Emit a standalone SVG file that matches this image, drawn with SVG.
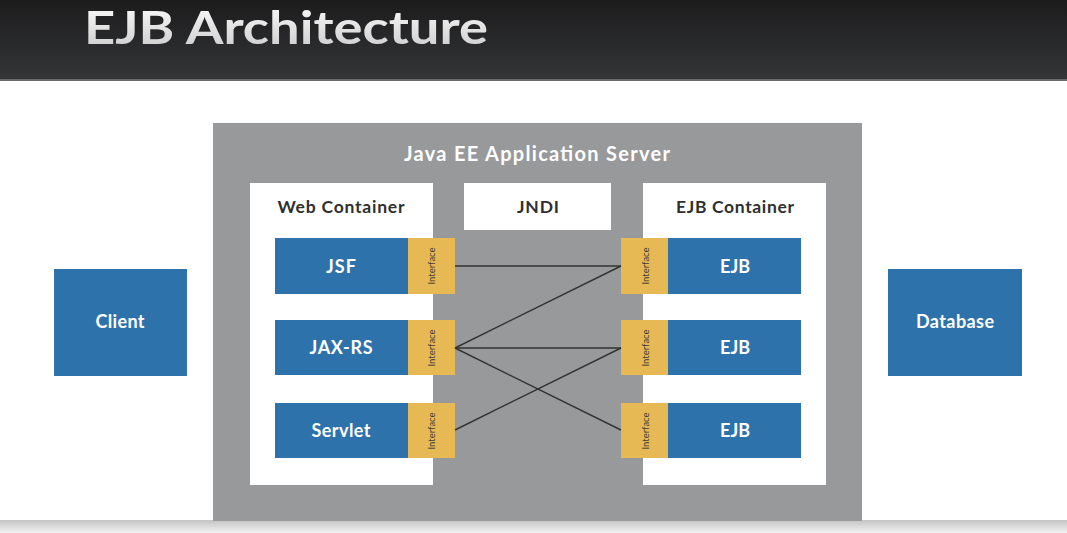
<svg xmlns="http://www.w3.org/2000/svg" width="1067" height="533" viewBox="0 0 1067 533">
  <defs>
    <linearGradient id="hdr" x1="0" y1="0" x2="0" y2="1">
      <stop offset="0" stop-color="#1c1c1d"/>
      <stop offset="1" stop-color="#343537"/>
    </linearGradient>
    <linearGradient id="ttl" x1="0" y1="0" x2="0" y2="1">
      <stop offset="0" stop-color="#ffffff"/>
      <stop offset="1" stop-color="#c9c9c9"/>
    </linearGradient>
    <linearGradient id="foot" x1="0" y1="0" x2="0" y2="1">
      <stop offset="0" stop-color="#c4c4c4"/>
      <stop offset="1" stop-color="#f2f2f2"/>
    </linearGradient>
    <style>
      .lbl { font-family: Lato, "Open Sans", sans-serif; font-weight: 700; text-anchor: middle; }
      .w { fill: #ffffff; }
      .d { fill: #2f2f2f; }
      .blue { fill: #2e72ac; }
      .iface { fill: #e6b955; }
      .box { fill: #ffffff; }
      .itext { font-family: Lato, "Open Sans", sans-serif; font-size: 9.5px; fill: #3a3a3a; text-anchor: middle; }
      .wire { stroke: #333333; stroke-width: 1.4; fill: none; }
    </style>
  </defs>

  <!-- page -->
  <rect x="0" y="0" width="1067" height="533" fill="#ffffff"/>
  <rect x="0" y="0" width="1067" height="80" fill="url(#hdr)"/>
  <rect x="0" y="79" width="1067" height="2" fill="#6a6a6a"/>
  <text x="84" y="44" font-family="Lato, 'Open Sans', sans-serif" font-weight="700" font-size="46" fill="url(#ttl)" textLength="404" lengthAdjust="spacingAndGlyphs">EJB Architecture</text>
  <rect x="0" y="520" width="1067" height="13" fill="url(#foot)"/>

  <!-- application server -->
  <g id="server">
    <rect x="213" y="123" width="649" height="398" fill="#98999b"/>
    <text class="lbl w" x="537" y="161" font-size="20" textLength="266" lengthAdjust="spacing">Java EE Application Server</text>
  </g>

  <g id="web-container">
    <rect class="box" x="250" y="183" width="183" height="302"/>
    <text class="lbl d" x="341" y="213" font-size="17.5" textLength="127" lengthAdjust="spacing">Web Container</text>
  </g>

  <g id="jndi">
    <rect class="box" x="464" y="183" width="147" height="47"/>
    <text class="lbl d" x="538" y="213" font-size="17.5" textLength="42" lengthAdjust="spacing">JNDI</text>
  </g>

  <g id="ejb-container">
    <rect class="box" x="643" y="183" width="183" height="302"/>
    <text class="lbl d" x="735" y="213" font-size="17.5" textLength="118" lengthAdjust="spacing">EJB Container</text>
  </g>

  <!-- web components -->
  <g id="jsf">
    <rect class="blue" x="275" y="238" width="133" height="56"/>
    <text class="lbl w" x="341" y="273" font-size="18" textLength="30" lengthAdjust="spacing">JSF</text>
    <rect class="iface" x="408" y="238" width="47" height="56"/>
    <text class="itext" transform="translate(434.5,266) rotate(-90)">Interface</text>
  </g>
  <g id="jax-rs">
    <rect class="blue" x="275" y="320" width="133" height="55"/>
    <text class="lbl w" x="341" y="354" font-size="18" textLength="63" lengthAdjust="spacing">JAX-RS</text>
    <rect class="iface" x="408" y="320" width="47" height="55"/>
    <text class="itext" transform="translate(434.5,348) rotate(-90)">Interface</text>
  </g>
  <g id="servlet">
    <rect class="blue" x="275" y="403" width="133" height="55"/>
    <text class="lbl w" x="341" y="437" font-size="18" textLength="59" lengthAdjust="spacing">Servlet</text>
    <rect class="iface" x="408" y="403" width="47" height="55"/>
    <text class="itext" transform="translate(434.5,431) rotate(-90)">Interface</text>
  </g>

  <!-- enterprise beans -->
  <g id="ejb-1">
    <rect class="iface" x="621" y="238" width="47" height="56"/>
    <text class="itext" transform="translate(648.5,266) rotate(-90)">Interface</text>
    <rect class="blue" x="668" y="238" width="133" height="56"/>
    <text class="lbl w" x="735" y="273" font-size="18" textLength="30" lengthAdjust="spacing">EJB</text>
  </g>
  <g id="ejb-2">
    <rect class="iface" x="621" y="320" width="47" height="55"/>
    <text class="itext" transform="translate(648.5,348) rotate(-90)">Interface</text>
    <rect class="blue" x="668" y="320" width="133" height="55"/>
    <text class="lbl w" x="735" y="354" font-size="18" textLength="30" lengthAdjust="spacing">EJB</text>
  </g>
  <g id="ejb-3">
    <rect class="iface" x="621" y="403" width="47" height="55"/>
    <text class="itext" transform="translate(648.5,431) rotate(-90)">Interface</text>
    <rect class="blue" x="668" y="403" width="133" height="55"/>
    <text class="lbl w" x="735" y="437" font-size="18" textLength="30" lengthAdjust="spacing">EJB</text>
  </g>

  <!-- outside the server -->
  <g id="client">
    <rect class="blue" x="54" y="269" width="133" height="107"/>
    <text class="lbl w" x="120" y="328" font-size="18" textLength="49" lengthAdjust="spacing">Client</text>
  </g>
  <g id="database">
    <rect class="blue" x="888" y="269" width="134" height="107"/>
    <text class="lbl w" x="955" y="328" font-size="18" textLength="78" lengthAdjust="spacing">Database</text>
  </g>

  <!-- interface wiring -->
  <g id="connectors">
    <line class="wire" x1="455" y1="266" x2="621" y2="266"/>
    <line class="wire" x1="455" y1="348" x2="621" y2="266"/>
    <line class="wire" x1="455" y1="348" x2="621" y2="348"/>
    <line class="wire" x1="455" y1="348" x2="621" y2="430"/>
    <line class="wire" x1="455" y1="430" x2="621" y2="348"/>
  </g>
</svg>
